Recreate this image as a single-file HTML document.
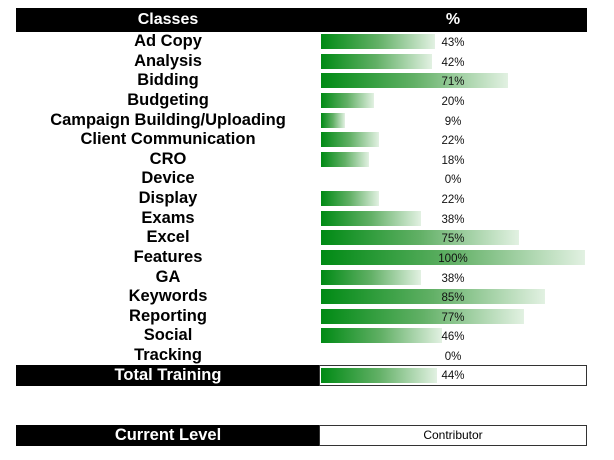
<!DOCTYPE html>
<html><head><style>
body{margin:0;width:614px;height:460px;background:#fff;position:relative;overflow:hidden;font-family:"Liberation Sans",sans-serif}
.a{position:absolute}
.lab{position:absolute;left:16px;width:304px;text-align:center;font-weight:bold;font-size:16.5px;line-height:20px;color:#000}
.pct{position:absolute;left:413px;width:80px;text-align:center;font-size:11.5px;line-height:20px;color:#111}
.bar{position:absolute;left:321px;height:15px;background:linear-gradient(to right,#008a14,#62b066 50%,#e2f1e2)}
</style></head><body>
<div class="a" style="left:16px;top:8px;width:571px;height:24px;background:#000"></div>
<div class="a" style="left:16px;top:8px;width:304px;height:24px;color:#fff;font-weight:bold;font-size:16px;line-height:24px;text-align:center">Classes</div>
<div class="a" style="left:413px;top:8px;width:80px;height:24px;color:#fff;font-weight:bold;font-size:16px;line-height:24px;text-align:center">%</div>
<div id="rows"></div>
<div class="a" style="left:16px;top:365px;width:304px;height:21px;background:#000"></div>
<div class="a" style="left:319px;top:365px;width:266px;height:19px;border:1px solid #333;background:#fff"></div>
<div class="bar" style="top:368px;width:116px"></div>
<div class="a" style="left:16px;top:365px;width:304px;color:#fff;font-weight:bold;font-size:16.5px;line-height:21px;text-align:center">Total Training</div>
<div class="pct" style="top:366px">44%</div>
<div class="a" style="left:16px;top:425px;width:304px;height:21px;background:#000"></div>
<div class="a" style="left:319px;top:425px;width:266px;height:19px;border:1px solid #333;background:#fff"></div>
<div class="a" style="left:16px;top:425px;width:304px;color:#fff;font-weight:bold;font-size:16.5px;line-height:21px;text-align:center">Current Level</div>
<div class="a" style="left:319px;top:425px;width:268px;font-size:12px;line-height:21px;text-align:center">Contributor</div>
<script>
var d=[["Ad Copy",43],["Analysis",42],["Bidding",71],["Budgeting",20],["Campaign Building/Uploading",9],["Client Communication",22],["CRO",18],["Device",0],["Display",22],["Exams",38],["Excel",75],["Features",100],["GA",38],["Keywords",85],["Reporting",77],["Social",46],["Tracking",0]];
var h="";
d.forEach(function(r,i){var c=42+i*19.63;
if(r[1]>0)h+='<div class="bar" style="top:'+(c-8)+'px;width:'+(r[1]*2.64)+'px"></div>';
h+='<div class="lab" style="top:'+(c-11)+'px">'+r[0]+'</div><div class="pct" style="top:'+(c-9)+'px">'+r[1]+'%</div>';});
document.getElementById("rows").innerHTML=h;
</script>
</body></html>
